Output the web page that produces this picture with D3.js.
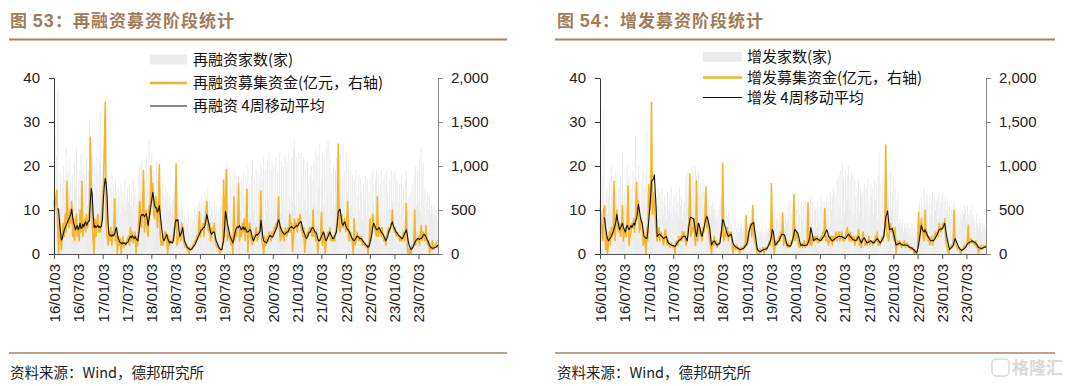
<!DOCTYPE html>
<html><head><meta charset="utf-8">
<script src="https://cdn.jsdelivr.net/npm/d3@7/dist/d3.min.js"></script>
<style>
body{margin:0;background:#fff;}
svg{display:block;}
</style></head><body>
<svg id="c" width="1080" height="386"></svg>
<script>
// ---------- DATA ----------
const firstWeek = "2016-01-03";           // weekly series start
const tickLabels = ["16/01/03","16/07/03","17/01/03","17/07/03","18/01/03","18/07/03","19/01/03","19/07/03","20/01/03","20/07/03","21/01/03","21/07/03","22/01/03","22/07/03","23/01/03","23/07/03"];
const leftTicks = [0,10,20,30,40];
const rightTicks = [0,500,1000,1500,2000];

// 再融资家数(家)
const cntA = [14,27,10,22,37,12,8,18,11,15,
20,13,17,24,9,19,14,22,16,12,
18,11,21,15,24,10,17,13,19,23,
14,20,12,18,16,22,11,19,30,15,
13,23,17,12,20,15,22,18,14,21,
32,16,12,19,24,28,18,14,17,11,
15,13,18,10,16,12,17,14,11,15,
13,9,16,12,14,11,17,10,13,15,
12,16,11,14,10,17,13,15,9,12,
14,18,20,16,21,13,19,17,15,22,
18,14,26,20,17,23,15,19,16,14,
21,17,13,18,15,12,16,14,11,13,
15,12,14,10,13,11,9,12,14,16,
15,12,10,13,9,11,8,12,10,7,
9,6,8,7,10,5,8,6,9,7,
8,10,7,9,11,8,12,10,13,9,
12,10,14,11,13,15,10,12,9,11,
10,8,12,9,11,7,10,8,9,11,
13,8,17,10,19,9,21,12,7,18,
15,9,17,8,19,11,16,7,18,12,
10,17,8,19,13,7,18,11,20,9,
16,8,18,21,10,17,7,19,11,16,
18,9,20,11,17,22,8,19,10,21,
12,23,9,19,21,10,20,13,22,8,
19,11,23,9,21,12,20,8,22,14,
21,10,23,13,9,22,12,24,26,11,
22,9,23,14,10,23,18,8,22,12,
19,10,21,16,9,18,20,11,17,21,
12,24,10,22,15,25,9,17,23,11,
22,10,24,13,26,9,23,14,18,10,
20,11,19,22,9,25,13,23,10,17,
25,12,19,9,23,14,20,8,19,11,
18,9,17,11,19,8,13,18,10,17,
14,8,16,12,18,9,17,11,14,8,
18,10,19,12,9,17,19,11,18,8,
16,19,9,17,12,18,8,19,13,10,
17,10,19,12,18,9,19,13,17,8,
12,16,9,18,11,15,8,17,19,10,
10,13,7,14,9,16,12,18,20,11,
19,12,22,10,24,14,21,11,15,9,
12,14,10,13,9,11,10,8,11,9,
10,8,7];

// 再融资募集资金(亿元，右轴)
const fundA = [600,500,650,725,300,0,400,150,50,250,
350,200,450,250,825,400,300,500,350,600,
200,400,150,350,450,200,300,150,500,250,
825,200,300,400,250,450,300,400,500,1325,
750,350,150,0,400,200,350,450,250,300,
250,450,600,800,1200,1725,350,200,100,250,
150,300,100,250,200,625,150,300,0,200,
100,175,0,150,200,75,125,100,150,175,
200,100,300,150,250,125,200,250,0,200,
100,400,600,450,300,500,950,250,350,500,
300,200,550,450,1000,600,800,450,400,650,
550,300,450,1015,200,100,150,100,200,250,
250,150,0,200,100,150,125,150,200,300,
300,1025,100,150,200,250,150,350,300,150,
100,75,100,50,75,0,75,50,50,100,
100,150,125,200,175,250,480,200,250,300,
350,200,400,450,600,300,250,350,150,200,
300,250,350,150,100,75,100,50,0,50,
50,150,840,200,600,960,150,250,200,150,
100,200,0,650,150,250,200,350,800,150,
300,200,350,250,400,150,300,735,20,250,
350,200,150,100,200,150,250,300,150,250,
200,300,715,150,100,0,200,100,150,200,
150,250,200,150,250,200,300,250,350,300,
400,650,250,150,300,200,250,150,300,250,
200,300,250,450,250,350,30,200,400,300,
350,250,400,350,450,300,250,200,300,20,
150,200,250,200,300,250,300,200,500,200,
250,150,200,10,150,150,200,475,100,250,
200,10,150,200,250,200,300,150,200,150,
200,150,250,300,400,1250,300,250,350,450,
300,350,400,250,300,600,200,150,250,200,
150,10,400,100,150,250,200,150,200,150,
200,100,150,100,125,75,100,0,100,400,
150,300,450,350,300,250,200,650,200,300,
250,200,300,200,150,200,100,200,250,300,
250,300,350,500,300,250,300,200,250,200,
200,150,200,150,200,250,150,250,575,100,
0,0,75,0,100,75,100,500,100,150,
150,200,100,200,325,150,250,200,150,325,
150,100,150,10,75,50,150,50,75,100,
125,75,100];

// 再融资 4周移动平均 (left axis)
const maA = [null,null,null,null,10.4,10.0,7.0,5.0,3.2,3.5,
4.5,5.5,6.0,6.5,7.0,7.5,8.0,8.5,9.0,10.2,
8.5,7.0,6.5,5.5,6.0,6.5,5.5,6.0,7.0,5.8,
6.0,6.8,6.2,7.0,7.3,6.5,7.0,7.5,7.5,12.0,
14.9,13.5,9.0,6.0,6.5,6.0,6.2,6.5,6.0,6.3,
6.0,6.5,8.0,12.5,15.5,17.2,16.0,13.0,7.0,4.5,
4.2,4.3,4.0,4.4,4.2,4.5,5.5,6.0,4.5,3.5,
3.0,2.6,2.5,2.3,2.6,2.4,2.5,2.2,2.5,2.6,
3.0,3.6,4.0,3.7,4.2,3.8,3.5,4.0,3.5,3.2,
3.0,4.5,6.5,8.5,9.0,8.8,9.0,8.5,8.8,9.2,
8.0,6.5,8.0,9.5,11.0,12.5,14.0,12.5,11.0,10.5,
10.5,9.5,10.0,11.0,9.0,7.0,5.0,3.5,3.0,3.5,
4.0,4.5,3.5,3.0,2.5,2.8,2.6,2.5,3.0,4.5,
7.0,7.8,7.5,7.8,5.5,4.0,4.5,5.0,6.0,4.5,
3.0,2.5,2.0,1.5,1.3,1.2,1.0,1.0,1.2,1.5,
1.8,2.0,2.5,3.0,3.5,4.0,4.5,5.0,5.5,5.5,
6.0,6.0,6.5,7.5,9.0,8.0,7.0,6.0,5.0,4.5,
4.8,5.0,5.0,4.0,3.0,2.5,2.0,1.5,1.2,1.0,
1.0,2.0,3.0,6.0,9.7,8.5,7.0,6.0,5.0,4.0,
3.5,3.0,2.5,3.5,4.5,5.5,6.0,6.2,6.0,6.5,
6.0,5.5,5.8,6.2,5.5,6.0,5.5,5.0,5.0,5.2,
5.5,5.5,4.5,3.5,3.0,3.5,4.0,4.5,4.3,4.5,
4.8,5.0,7.7,6.0,4.0,3.0,2.8,2.7,2.5,3.0,
3.5,4.0,4.2,4.0,3.8,4.0,4.5,5.0,5.5,6.0,
7.0,7.8,7.0,6.0,5.5,5.0,4.8,4.5,4.5,4.8,
5.0,5.0,5.5,6.0,6.0,6.3,6.0,5.8,6.0,6.2,
6.5,6.3,6.5,7.0,7.2,7.4,6.5,5.5,5.0,4.5,
3.8,3.5,4.0,4.5,5.0,5.0,5.5,6.0,6.0,5.5,
5.0,5.0,4.5,3.5,3.0,3.0,3.5,4.0,4.5,5.0,
4.5,3.5,3.0,3.5,4.0,4.5,5.0,4.5,4.0,3.5,
3.5,4.0,4.5,5.0,7.0,9.5,10.0,10.2,8.5,7.0,
6.5,7.0,7.3,6.5,6.0,5.5,5.5,5.0,4.5,4.0,
3.5,3.2,3.0,3.3,3.6,4.0,4.0,3.8,3.5,3.5,
3.5,3.0,2.8,2.5,2.2,2.0,1.8,1.5,1.8,2.5,
3.5,4.5,6.0,7.0,6.5,6.0,5.5,5.5,5.8,6.0,
5.5,5.0,4.8,4.5,4.0,3.5,3.0,3.5,4.0,5.0,
5.5,6.0,6.8,7.3,6.5,6.0,5.5,5.0,4.8,4.5,
4.2,4.0,3.8,3.5,3.5,4.0,4.5,5.0,5.5,4.5,
3.0,2.0,1.5,1.0,1.2,1.5,2.0,2.5,3.0,3.2,
3.5,3.5,3.3,3.5,3.5,3.8,4.2,4.5,4.3,4.0,
3.5,3.0,2.5,2.0,1.6,1.4,1.3,1.3,1.4,1.5,
1.6,1.8,2.0];

// 增发家数(家)
const cntB = [12,25,9,18,33,10,7,15,9,13,
17,11,20,14,8,16,12,19,13,10,
15,9,18,12,23,8,14,11,16,20,
12,17,10,15,13,19,9,16,27,13,
11,20,14,10,17,12,19,15,12,18,
28,14,10,16,20,24,15,12,14,9,
13,11,15,8,14,10,15,12,9,13,
11,8,14,10,12,9,15,8,11,13,
10,14,9,12,8,15,11,13,8,10,
12,16,18,14,19,11,17,15,13,20,
16,12,20,17,14,19,13,16,14,12,
17,14,11,15,12,10,13,11,9,11,
12,10,11,8,10,9,7,10,11,13,
12,10,8,11,7,9,6,10,8,6,
7,5,6,5,8,4,6,5,7,5,
6,7,5,6,8,5,8,6,7,5,
7,6,8,6,7,8,5,6,4,5,
4,5,6,4,5,3,5,4,6,5,
6,7,9,6,10,7,9,6,8,7,
8,6,9,7,10,8,7,6,9,7,
8,11,6,12,9,5,12,7,11,9,
10,6,12,9,5,12,8,11,6,12,
11,7,12,5,11,13,7,12,6,11,
10,6,12,9,7,11,13,6,12,10,
12,7,13,9,12,6,14,10,13,15,
14,8,13,17,9,18,11,19,8,21,
17,9,19,12,18,20,10,17,19,8,
18,9,17,13,8,14,17,9,15,13,
14,8,16,12,15,9,17,12,8,16,
13,15,9,17,12,16,8,18,23,10,
16,9,18,11,17,19,8,16,13,9,
19,10,14,17,8,15,12,9,14,7,
8,7,6,8,5,7,6,5,7,6,
5,6,4,7,5,4,6,3,5,4,
8,12,6,13,9,11,15,7,12,14,
11,6,13,9,12,14,7,13,10,12,
13,8,14,10,12,13,14,7,12,13,
10,12,9,11,8,10,9,11,12,10,
7,9,6,8,7,9,8,10,9,11,
10,8,11,9,7,10,8,11,9,7,
8,6,9,7,6,8,7,5,7,6,
7,6,5];

// 增发募集资金(亿元，右轴)
const fundB = [525,450,250,150,500,550,50,200,0,150,
250,100,300,200,250,825,150,350,500,300,
250,350,200,300,550,150,250,300,200,400,
775,100,200,250,350,300,400,250,450,815,
450,600,250,300,400,350,100,150,200,0,
300,150,790,500,600,1725,450,700,600,400,
250,150,200,300,150,250,200,150,100,250,
275,150,100,150,100,75,125,100,75,100,
0,125,150,100,200,150,200,150,250,200,
250,150,100,150,300,350,910,200,300,250,
400,200,100,825,150,300,350,200,250,150,
300,250,450,765,300,400,250,150,100,0,
150,100,200,100,150,75,125,100,150,250,
200,1030,150,200,250,200,300,150,250,200,
250,100,0,100,75,50,100,50,75,0,
50,75,50,75,100,75,435,100,150,250,
300,350,200,550,250,150,100,50,0,0,
0,50,25,50,75,0,50,75,50,100,
100,150,100,800,200,100,10,100,150,100,
150,200,150,250,200,465,100,200,150,100,
75,125,75,100,150,125,200,675,150,200,
250,150,100,75,100,125,75,100,150,75,
100,125,575,150,100,200,100,150,200,150,
200,150,200,125,150,175,200,150,250,200,
515,150,200,150,100,200,150,200,100,200,
150,200,250,150,200,250,150,200,250,150,
200,150,200,250,300,200,150,250,150,200,
150,200,100,150,200,150,275,100,150,75,
200,250,150,100,150,100,150,200,100,150,
150,100,150,125,200,150,250,100,150,100,
150,200,150,250,300,1235,250,200,150,300,
350,250,300,200,150,300,0,100,150,100,
150,100,75,125,100,150,75,100,125,75,
100,50,75,50,75,0,50,0,0,50,
475,150,300,400,250,200,150,500,200,250,
150,200,100,150,200,100,150,200,250,200,
250,200,350,300,250,300,350,300,400,150,
100,50,0,50,75,100,75,100,500,100,
100,75,50,75,50,0,50,50,75,100,
75,100,150,325,100,150,175,125,150,125,
100,150,75,100,0,75,50,100,50,75,
100,75,100];

// 增发 4周移动平均 (left axis)
const maB = [null,null,null,null,8.3,8.0,6.0,4.5,3.5,3.0,
3.3,3.6,4.0,4.5,5.0,5.8,6.5,7.5,9.0,7.5,
6.5,5.5,6.0,6.5,7.0,6.0,5.5,5.0,5.8,6.5,
6.0,5.5,6.0,6.5,6.0,6.5,7.0,6.5,7.5,8.0,
9.5,11.3,10.0,8.5,7.5,7.0,5.5,4.0,3.8,3.6,
3.5,5.0,7.5,10.0,13.0,16.5,16.8,17.0,18.0,14.0,
10.0,4.0,4.2,4.5,4.5,4.2,4.0,3.8,3.5,3.7,
3.8,4.0,3.0,2.5,2.4,2.2,2.0,2.0,1.9,1.8,
1.7,2.0,2.4,2.7,3.0,3.2,3.3,3.5,3.8,4.0,
4.0,4.0,3.5,3.0,4.5,6.5,8.0,8.4,8.2,8.0,
8.0,6.5,5.0,4.0,5.5,7.0,6.5,5.5,4.5,4.0,
5.0,6.0,7.0,8.0,8.6,8.0,7.0,6.0,4.0,2.0,
2.5,2.8,3.0,2.6,2.3,2.0,2.2,2.3,2.5,4.0,
6.0,7.8,7.5,6.5,6.0,5.0,4.5,4.0,4.2,4.4,
4.5,3.5,2.5,2.0,1.8,1.6,1.5,1.3,1.2,1.1,
1.0,1.1,1.2,1.2,1.5,1.8,2.0,2.5,3.5,5.0,
5.8,6.5,6.8,7.0,7.2,5.5,4.0,2.5,1.0,0.8,
0.6,0.5,0.6,0.8,0.9,1.0,1.1,1.1,1.2,1.5,
2.0,2.5,3.0,4.0,5.6,5.0,3.5,2.0,2.2,2.5,
2.8,3.0,3.5,4.0,4.5,4.5,4.4,4.3,3.5,2.5,
2.0,1.9,1.8,1.8,2.0,2.8,3.5,4.5,5.6,5.3,
5.0,4.8,4.0,3.0,2.0,2.0,2.1,2.0,1.9,2.0,
2.0,2.0,2.5,3.0,4.0,6.0,5.0,4.0,3.0,3.2,
3.4,3.5,3.5,3.3,3.2,3.0,3.2,3.5,3.8,4.0,
4.5,5.0,5.5,5.0,4.0,3.8,3.5,3.2,3.0,3.2,
3.3,3.5,3.7,3.8,3.9,4.0,4.0,3.9,4.0,3.8,
3.7,3.6,3.5,3.8,4.2,4.5,4.3,4.0,3.8,3.5,
3.3,3.2,3.1,3.0,3.3,3.6,4.0,3.5,3.0,2.5,
3.0,3.4,3.7,3.3,2.9,2.5,2.6,2.8,2.9,3.0,
2.8,2.6,2.5,2.7,3.0,3.3,3.5,3.2,2.8,2.5,
2.8,3.2,3.6,4.0,6.0,8.5,9.0,9.8,7.5,5.5,
5.6,5.7,5.8,5.0,4.0,3.0,2.0,2.2,2.3,2.4,
2.5,2.3,2.2,2.0,2.0,2.1,2.0,2.0,2.0,1.8,
1.6,1.5,1.4,1.3,1.1,1.0,0.7,0.5,0.3,1.0,
2.0,3.5,5.0,6.5,5.8,5.2,5.0,5.5,5.0,4.5,
4.0,3.7,3.3,3.0,3.0,3.1,3.0,3.3,3.7,4.1,
4.5,5.0,5.5,5.6,5.7,5.7,6.0,6.5,7.0,5.5,
4.0,3.0,2.0,1.0,1.2,1.4,1.7,2.0,2.8,3.5,
3.0,2.5,2.0,1.5,1.2,1.0,0.8,0.9,1.1,1.3,
1.5,1.8,2.2,2.5,2.6,2.7,2.8,3.0,2.9,2.8,
2.6,2.5,2.2,1.9,1.5,1.4,1.3,1.2,1.3,1.4,
1.5,1.6,1.7];

const panels = [
  {title:["图 ","53","：再融资募资阶段统计"], legend:["再融资家数(家)","再融资募集资金(亿元，右轴)","再融资 4周移动平均"],
   cnt:cntA, fund:fundA, ma:maA,
   x0:54, x1:438, titleX:10, line:[9,507], legX:150, legW:37, legTextX:193, legRows:[59.5,83,106], footX:10},
  {title:["图 ","54","：增发募资阶段统计"], legend:["增发家数(家)","增发募集资金(亿元，右轴)","增发 4周移动平均"],
   cnt:cntB, fund:fundB, ma:maB,
   x0:600, x1:986, titleX:557, line:[555,1055], legX:703, legW:39, legTextX:747, legRows:[57,77.5,97.5], footX:557}
];

// ---------- DRAW ----------
const svg = d3.select("#c");
const parseD = d3.utcParse("%Y-%m-%d");
const parseTick = d3.utcParse("%y/%m/%d");
const start = parseD(firstWeek);
const N = cntA.length;
const dates = d3.range(N).map(i => d3.utcDay.offset(start, 7*i));
const tickDates = tickLabels.map(parseTick);
const yTop = 78, yBot = 254;
const TITLE_C = "#a07c5a", RULE_C = "#a88462";
const YEL = "#f5b52a", GREY = "#ebebeb";
const NUMF = "'Liberation Sans', Arial, sans-serif";
const CJK = "'Noto Sans CJK SC', 'Liberation Sans', sans-serif";

panels.forEach(p => {
  const g = svg.append("g");
  const x = d3.scaleUtc().domain([start, dates[N-1]]).range([p.x0, p.x1]);
  const yL = d3.scaleLinear().domain([0,40]).range([yBot, yTop]);
  const yR = d3.scaleLinear().domain([0,2000]).range([yBot, yTop]);

  // title
  const t = g.append("text").attr("x", p.titleX).attr("y", 27)
    .attr("fill", TITLE_C).style("font-size","17px").style("font-weight","bold")
    .style("font-family", CJK).style("letter-spacing","1px");
  t.append("tspan").text(p.title[0]);
  t.append("tspan").style("font-family", NUMF).style("font-size","18px").text(p.title[1]);
  t.append("tspan").text(p.title[2]);
  g.append("line").attr("x1",p.line[0]).attr("x2",p.line[1]).attr("y1",39.5).attr("y2",39.5)
    .attr("stroke",RULE_C).attr("stroke-width",2.2);
  g.append("line").attr("x1",p.line[0]).attr("x2",p.line[1]).attr("y1",353).attr("y2",353)
    .attr("stroke",RULE_C).attr("stroke-width",1.6);
  g.append("text").attr("x",p.footX).attr("y",378).attr("fill","#222")
    .style("font-size","14.5px").style("font-family",CJK).text("资料来源：Wind，德邦研究所");

  // bars
  const bw = Math.max(1, x(dates[1]) - x(dates[0]));
  g.append("g").selectAll("rect").data(p.cnt).join("rect")
    .attr("x", (d,i) => x(dates[i]) - bw/2).attr("width", bw)
    .attr("y", d => yL(d)).attr("height", d => yBot - yL(d))
    .attr("fill", GREY);

  // yellow funds line (right axis)
  const lineR = d3.line().x((d,i)=>x(dates[i])).y(d=>yR(d));
  g.append("path").datum(p.fund).attr("d", lineR).attr("fill","none")
    .attr("stroke",YEL).attr("stroke-width",1.6).attr("stroke-linejoin","round");

  // black moving average (left axis)
  const lineL = d3.line().defined(d=>d!=null).x((d,i)=>x(dates[i])).y(d=>yL(d));
  g.append("path").datum(p.ma).attr("d", lineL).attr("fill","none")
    .attr("stroke","#111").attr("stroke-width",1.1).attr("stroke-linejoin","round");

  // axes
  const axL = g.append("g").attr("transform",`translate(${p.x0},0)`)
    .call(d3.axisLeft(yL).tickValues(leftTicks).tickSize(5).tickSizeOuter(0).tickPadding(9));
  axL.selectAll("path,line").attr("stroke","#333");
  const axR = g.append("g").attr("transform",`translate(${p.x1},0)`)
    .call(d3.axisRight(yR).tickValues(rightTicks).tickFormat(d3.format(",")).tickSize(5).tickSizeOuter(0).tickPadding(8));
  axR.selectAll("path,line").attr("stroke","#8a8a8a");
  const axB = g.append("g").attr("transform",`translate(0,${yBot})`)
    .call(d3.axisBottom(x).tickValues(tickDates).tickFormat((d,i)=>tickLabels[i]).tickSize(5).tickSizeOuter(0));
  axB.selectAll("path,line").attr("stroke","#555");
  axB.selectAll("text").attr("transform","rotate(-90)").attr("x",-10).attr("y",0)
    .attr("dy","0.36em").style("text-anchor","end");
  [axL,axR,axB].forEach(a => a.selectAll("text").attr("fill","#222")
    .style("font-size","15px").style("font-family",NUMF));

  // legend
  const lg = g.append("g");
  lg.append("rect").attr("x",p.legX).attr("y",p.legRows[0]-5).attr("width",p.legW).attr("height",10).attr("fill","#ececec");
  lg.append("line").attr("x1",p.legX).attr("x2",p.legX+p.legW).attr("y1",p.legRows[1]).attr("y2",p.legRows[1])
    .attr("stroke",YEL).attr("stroke-width",2.6);
  lg.append("line").attr("x1",p.legX).attr("x2",p.legX+p.legW).attr("y1",p.legRows[2]).attr("y2",p.legRows[2])
    .attr("stroke","#111").attr("stroke-width",1.2);
  p.legend.forEach((s,i) => {
    lg.append("text").attr("x",p.legTextX).attr("y",p.legRows[i]).attr("dy","0.36em")
      .attr("fill","#111").style("font-size","15px").style("font-family",CJK).text(s);
  });
});

// watermark
const wm = svg.append("g").attr("opacity",0.55);
wm.append("rect").attr("x",992).attr("y",359).attr("width",17).attr("height",17).attr("rx",4)
  .attr("fill","none").attr("stroke","#bbb").attr("stroke-width",1.5);
wm.append("text").attr("x",1012).attr("y",374).attr("fill","#bbb")
  .style("font-size","17px").style("font-family",CJK).style("font-weight","bold").text("格隆汇");
</script>
</body></html>
